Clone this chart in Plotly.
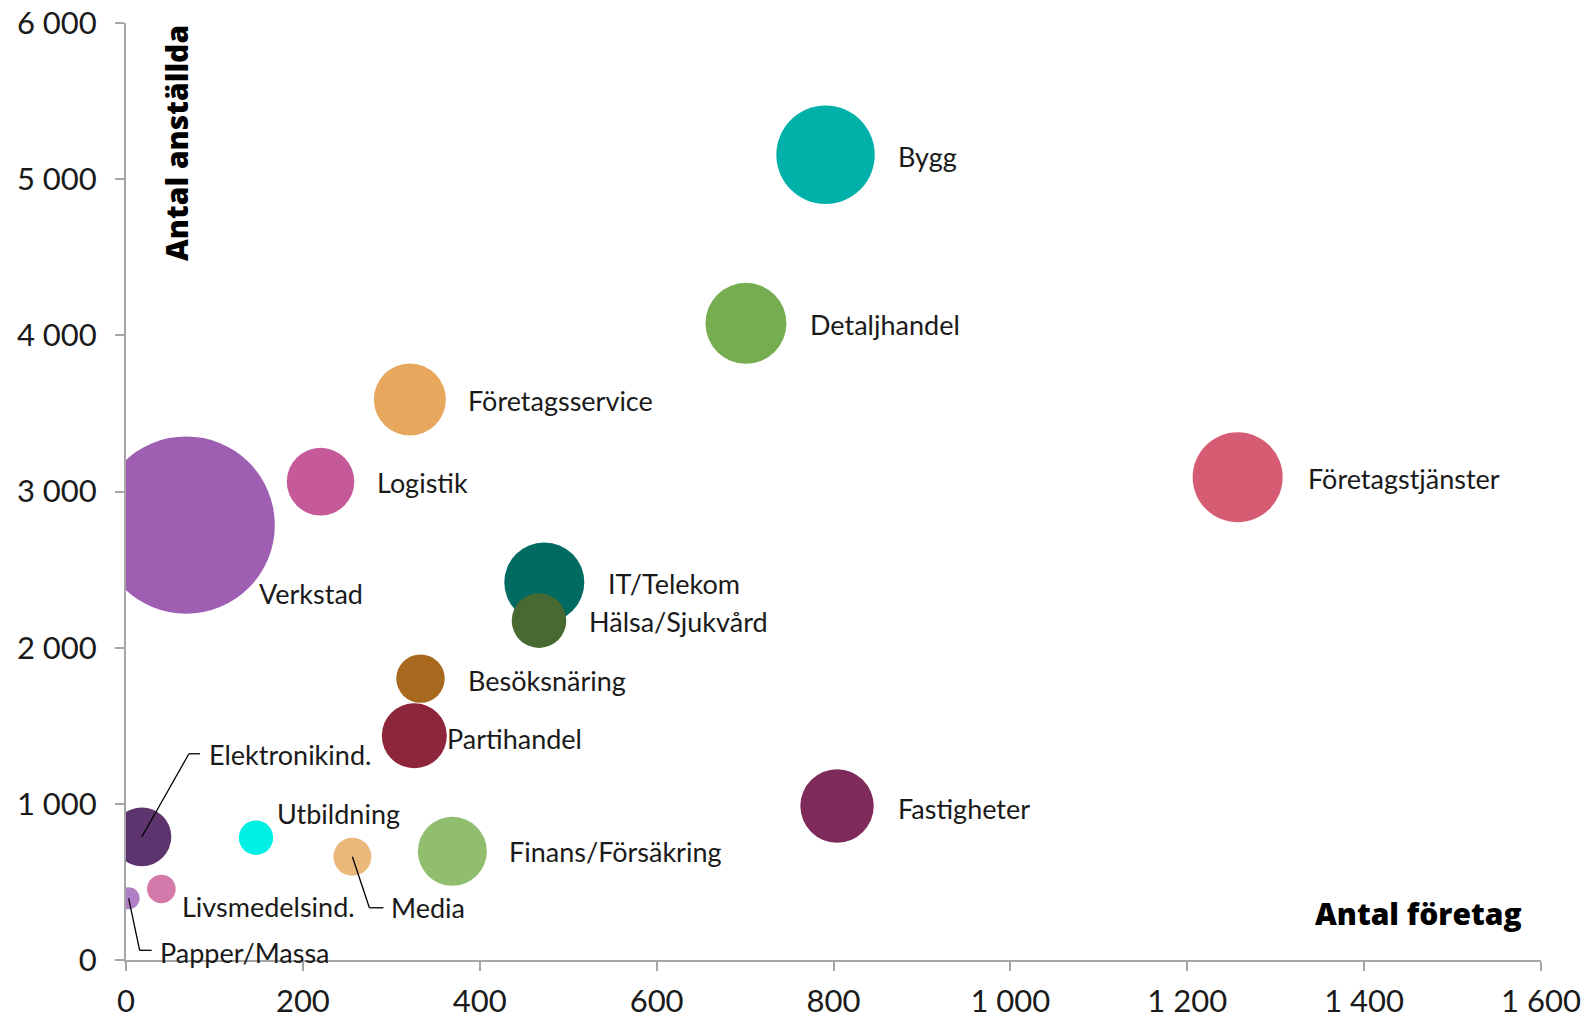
import plotly.graph_objects as go

# --- Data ---
branscher = ["Verkstad", "Bygg", "Detaljhandel", "Företagsservice", "Logistik",
             "Företagstjänster", "IT/Telekom", "Hälsa/Sjukvård", "Besöksnäring",
             "Partihandel", "Fastigheter", "Finans/Försäkring", "Media",
             "Utbildning", "Elektronikind.", "Livsmedelsind.", "Papper/Massa"]
antal_foretag = [68, 791, 701, 321, 220, 1257, 473, 467, 333, 326, 804, 369, 256, 147, 18, 40, 3]
antal_anstallda = [2785, 5156, 4077, 3589, 3063, 3091, 2418, 2173, 1802, 1436, 986, 696, 661, 783, 789, 455, 395]
storlek = [7868, 2421, 1640, 1296, 1142, 2025, 1600, 745, 586, 1056, 1347, 1190, 361, 296, 864, 204, 121]
farger = ["#9E5FB3", "#00B1A9", "#76AD50", "#E7A75C", "#C65A98", "#D65C73",
          "#016B62", "#486931", "#A8681E", "#8D263A", "#7E2B5C", "#91BD6F",
          "#EBB87B", "#00F0E4", "#5E346E", "#D47AAB", "#B07FC6"]

# label offsets in pixels (dx right, dy down) relative to bubble centre
label_dx = [71, 70, 62, 56, 54, 68, 62, 48, 45, 31, 59, 55, 37, 19, 65, 19, 29]
label_dy = [68, 2, 1, 1, 1, 1, 1, 1, 2, 3, 2, 0, 51, -24, -82, 18, 54]

# leader lines: [(dx,dy) points] relative to bubble centre
leaders = {
    "Elektronikind.": [(0, 0), (47, -83), (58, -83)],
    "Media": [(0, 0), (17, 51), (31, 51)],
    "Papper/Massa": [(0, 0), (11, 52), (23, 52)],
}

font_fam = "Lato, 'Open Sans', sans-serif"
title_fam = "'Open Sans', Lato, sans-serif"
max_diam = 177.4
sizeref = 2.0 * max(storlek) / (max_diam ** 2)

fig = go.Figure()
fig.add_trace(go.Scatter(
    x=antal_foretag, y=antal_anstallda, mode="markers",
    marker=dict(size=storlek, sizemode="area", sizeref=sizeref,
                color=farger, opacity=1, line=dict(width=0)),
    text=branscher, hoverinfo="text", showlegend=False,
))

annotations = []
for name, xv, yv, dx, dy in zip(branscher, antal_foretag, antal_anstallda, label_dx, label_dy):
    annotations.append(dict(
        x=xv, y=yv, xref="x", yref="y", text=name, showarrow=False,
        xanchor="left", yanchor="middle", xshift=dx, yshift=-dy,
        font=dict(family=font_fam, size=27, color="#1a1a1a"),
    ))

shapes = []
for name, pts in leaders.items():
    i = branscher.index(name)
    for (ax0, ay0), (ax1, ay1) in zip(pts[:-1], pts[1:]):
        shapes.append(dict(
            type="line", xref="x", yref="y",
            xsizemode="pixel", ysizemode="pixel",
            xanchor=antal_foretag[i], yanchor=antal_anstallda[i],
            x0=ax0, x1=ax1, y0=-ay0, y1=-ay1,
            line=dict(color="#000000", width=1.3),
        ))

annotations.append(dict(
    x=0.988, y=0.05, xref="paper", yref="paper", text="Antal företag",
    showarrow=False, xanchor="right", yanchor="middle",
    font=dict(family=title_fam, size=30, color="#000000", weight=800),
))
annotations.append(dict(
    x=0.0353, y=1.0, xref="paper", yref="paper", text="Antal anställda",
    showarrow=False, xanchor="center", yanchor="top", textangle=-90,
    font=dict(family=title_fam, size=30, color="#000000", weight=800),
))

axis_common = dict(
    showgrid=False, zeroline=False, showline=True, linecolor="#A6A6A6", linewidth=2,
    ticks="outside", ticklen=9, tickwidth=2, tickcolor="#A6A6A6",
    tickfont=dict(family=font_fam, size=31, color="#1a1a1a"),
    tickformat=",d", automargin=False, ticklabeloverflow="allow",
)

fig.update_layout(
    width=1586, height=1016,
    margin=dict(l=126, r=45, t=23, b=56),
    paper_bgcolor="white", plot_bgcolor="white",
    separators=", ",
    xaxis=dict(range=[0, 1600], tickvals=list(range(0, 1601, 200)),
               ticklabelstandoff=4, **axis_common),
    yaxis=dict(range=[0, 6000], tickvals=list(range(0, 6001, 1000)),
               ticklabelstandoff=12, **axis_common),
    annotations=annotations, shapes=shapes,
)

# remove the default 8px page margin so the figure fills the window exactly
fig.write_html("out.html", config={"displayModeBar": False},
               post_script="document.body.style.margin='0';")
